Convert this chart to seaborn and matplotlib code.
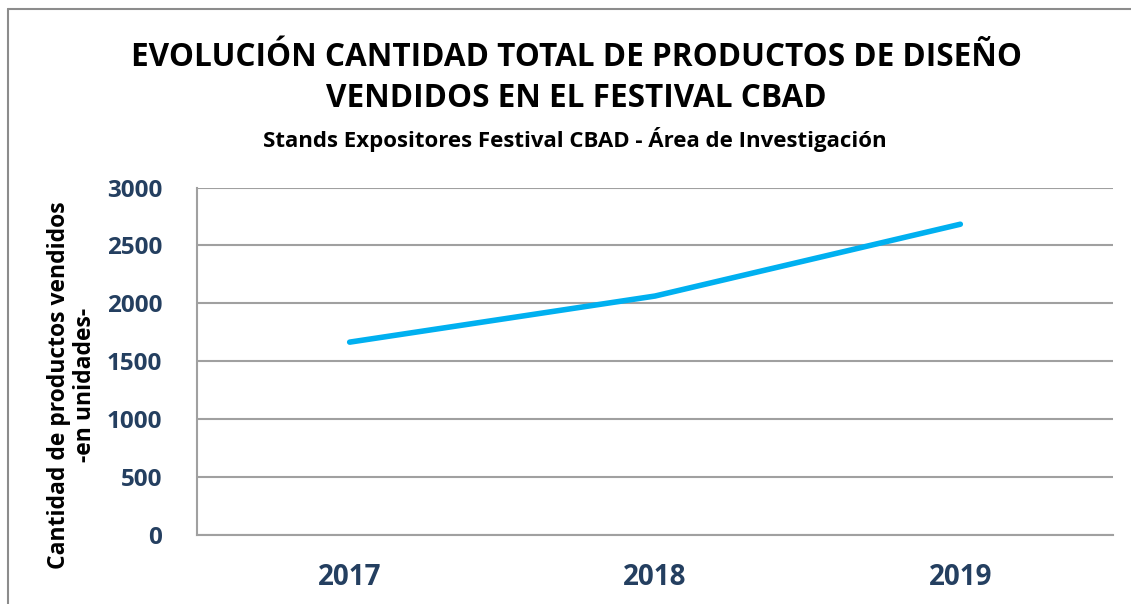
import matplotlib
matplotlib.use("Agg")
import matplotlib.pyplot as plt
import seaborn as sns
import pandas as pd
from matplotlib.lines import Line2D

# data
years = ["2017", "2018", "2019"]
units_sold = [1665, 2063, 2683]
y_ticks = [0, 500, 1000, 1500, 2000, 2500, 3000]

title = "EVOLUCIÓN CANTIDAD TOTAL DE PRODUCTOS DE DISEÑO\nVENDIDOS EN EL FESTIVAL CBAD"
subtitle = "Stands Expositores Festival CBAD - Área de Investigación"
ylabel = "Cantidad de productos vendidos\n-en unidades-"

tick_color = "#243F60"
grid_color = "#A0A0A0"

sns.set_theme(style="white")
plt.rcParams['font.family'] = ['Open Sans', 'DejaVu Sans']
plt.rcParams['font.weight'] = 'bold'

df = pd.DataFrame({"year": years, "units": units_sold})

fig = plt.figure(figsize=(11.31, 6.04), dpi=100)
ax = fig.add_axes([197 / 1131, 1 - 535 / 604, (1113 - 197) / 1131, (535 - 187.5) / 604])

sns.lineplot(data=df, x="year", y="units", ax=ax, color="#00B0F0", linewidth=4, sort=False)
ax.lines[0].set_solid_capstyle("round")

ax.set_xlim(-0.5, 2.5)
ax.set_ylim(0, 3000)
ax.set_yticks(y_ticks)
ax.set_yticklabels([str(v) for v in y_ticks], fontweight="bold", fontsize=17.5, color=tick_color)
ax.set_xticks(range(len(years)))
ax.set_xticklabels(years, fontweight="bold", fontsize=20, color=tick_color)
ax.yaxis.grid(True, color=grid_color, linewidth=1.5)
ax.set_axisbelow(True)
for s in ["top", "right"]:
    ax.spines[s].set_visible(False)
ax.spines["left"].set_color(grid_color)
ax.spines["left"].set_linewidth(1.5)
ax.spines["bottom"].set_color(grid_color)
ax.spines["bottom"].set_linewidth(1.5)
ax.tick_params(axis="both", length=0)
ax.tick_params(axis="y", pad=25)
ax.tick_params(axis="x", pad=20)
ax.set_xlabel("")
ax.set_ylabel("")

fig.text(72 / 1131, 1 - 385 / 604, ylabel, ha="center", va="center", rotation=90,
         multialignment="center", fontsize=16.5, fontweight="bold", color="black",
         linespacing=1.1)

fig.text(0.51, 1 - 78 / 604, title, ha="center", va="center", fontsize=22.7,
         fontweight="bold", color="black", linespacing=1.3)
fig.text(0.508, 1 - 139 / 604, subtitle, ha="center", va="center", fontsize=16,
         fontweight="bold", color="black")

# chart frame (cut at right and bottom edges)
fig.add_artist(Line2D([8 / 1131, 8 / 1131], [0, 1 - 9 / 604], transform=fig.transFigure,
                      color="#8C8C8C", linewidth=1.5))
fig.add_artist(Line2D([8 / 1131, 1], [1 - 9 / 604, 1 - 9 / 604], transform=fig.transFigure,
                      color="#8C8C8C", linewidth=1.5))

fig.savefig("out.png", dpi=100)
